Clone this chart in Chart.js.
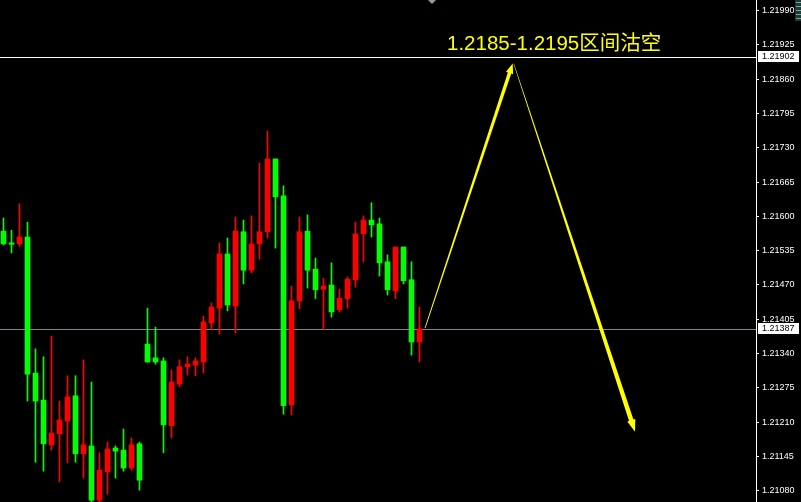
<!DOCTYPE html>
<html lang="zh">

<head>
    <meta charset="UTF-8">
    <title>EURUSD 1.2185-1.2195区间沽空</title>
    <script src="https://cdn.jsdelivr.net/npm/chart.js"></script>
    <style>
        body,
        html {
            margin: 0;
            padding: 0;
            background-color: #000;
            overflow: hidden;
        }

        canvas {
            display: block;
        }
    </style>
</head>

<body>
    <canvas id="candleChart" width="801" height="502"></canvas>

    <script>
        // candle values, one entry per bar (oldest first)
        const opens = [1.21572, 1.21550, 1.21548, 1.21561, 1.21303, 1.21252, 1.21167, 1.21188, 1.21212, 1.21260,
            1.21150, 1.21165, 1.21062, 1.21116, 1.21161, 1.21157, 1.21123, 1.21169, 1.21358, 1.21332,
            1.21326, 1.21203, 1.21282, 1.21315, 1.21318, 1.21324, 1.21398, 1.21426, 1.21529, 1.21430,
            1.21571, 1.21498, 1.21548, 1.21571, 1.21709, 1.21639, 1.21243, 1.21440, 1.21572, 1.21500,
            1.21462, 1.21470, 1.21423, 1.21444, 1.21480, 1.21567, 1.21593, 1.21586, 1.21514, 1.21459,
            1.21542, 1.21480, 1.21362];
        const highs = [1.21597, 1.21574, 1.21624, 1.21589, 1.21349, 1.21334, 1.21373, 1.21250, 1.21298, 1.21298,
            1.21328, 1.21286, 1.21152, 1.21172, 1.21165, 1.21197, 1.21180, 1.21172, 1.21426, 1.21390,
            1.21332, 1.21309, 1.21328, 1.21334, 1.21332, 1.21411, 1.21436, 1.21550, 1.21559, 1.21599,
            1.21593, 1.21601, 1.21701, 1.21762, 1.21709, 1.21658, 1.21468, 1.21599, 1.21603, 1.21521,
            1.21483, 1.21512, 1.21462, 1.21485, 1.21589, 1.21601, 1.21626, 1.21597, 1.21527, 1.21542,
            1.21542, 1.21514, 1.21428];
        const lows = [1.21546, 1.21531, 1.21543, 1.21250, 1.21134, 1.21117, 1.21157, 1.21097, 1.21133, 1.21134,
            1.21104, 1.21055, 1.21055, 1.21074, 1.21104, 1.21117, 1.21119, 1.21081, 1.21324, 1.21320,
            1.21152, 1.21180, 1.21277, 1.21299, 1.21298, 1.21303, 1.21385, 1.21377, 1.21421, 1.21379,
            1.21472, 1.21493, 1.21519, 1.21559, 1.21540, 1.21225, 1.21224, 1.21425, 1.21464, 1.21444,
            1.21385, 1.21409, 1.21419, 1.21426, 1.21466, 1.21514, 1.21561, 1.21487, 1.21451, 1.21444,
            1.21472, 1.21337, 1.21324];
        const closes = [1.21548, 1.21547, 1.21561, 1.21301, 1.21250, 1.21169, 1.21189, 1.21214, 1.21258, 1.21150,
            1.21167, 1.21062, 1.21119, 1.21159, 1.21155, 1.21123, 1.21167, 1.21100, 1.21324, 1.21324,
            1.21205, 1.21286, 1.21315, 1.21320, 1.21326, 1.21400, 1.21428, 1.21529, 1.21432, 1.21572,
            1.21498, 1.21548, 1.21571, 1.21709, 1.21637, 1.21241, 1.21440, 1.21571, 1.21498, 1.21461,
            1.21468, 1.21419, 1.21445, 1.21481, 1.21567, 1.21593, 1.21584, 1.21512, 1.21461, 1.21542,
            1.21478, 1.21362, 1.21387];

        const priceTicks = [1.21080, 1.21145, 1.21210, 1.21275, 1.21340, 1.21405, 1.21470, 1.21535,
            1.21600, 1.21665, 1.21730, 1.21795, 1.21860, 1.21925, 1.21990];
        const priceTop = 1.220103;
        const priceBottom = 1.210586;
        const barMin = -0.4375;
        const barMax = 94.0625;

        const askLevel = 1.21902;
        const bidLevel = 1.21387;

        // forecast path: bar index / price
        const pathX = [52.69, 63.65, 78.94];
        const pathY = [1.21388, 1.21890, 1.21192];

        const noteText = "1.2185-1.2195区间沽空";
        const noteX = 55.44;
        const notePrice = 1.21915;
        const shiftMarkX = 53.56;

        const upColor = '#ff0000';
        const downColor = '#00ff00';

        const candleColors = closes.map((c, i) => c > opens[i] ? upColor : downColor);
        const wickData = lows.map((l, i) => ({ x: i, y: [l, highs[i]] }));
        const bodyData = opens.map((o, i) => ({ x: i, y: [o, closes[i]] }));

        function drawTaperedArrow(ctx, x1, y1, x2, y2, w0, w1, headLen, headW) {
            const len = Math.hypot(x2 - x1, y2 - y1);
            const dx = (x2 - x1) / len, dy = (y2 - y1) / len;
            const nx = -dy, ny = dx;
            const sx = x2 - dx * headLen, sy = y2 - dy * headLen;
            ctx.beginPath();
            ctx.moveTo(x1 + nx * w0 / 2, y1 + ny * w0 / 2);
            ctx.lineTo(sx + nx * w1 / 2, sy + ny * w1 / 2);
            ctx.lineTo(sx + nx * headW / 2, sy + ny * headW / 2);
            ctx.lineTo(x2, y2);
            ctx.lineTo(sx - nx * headW / 2, sy - ny * headW / 2);
            ctx.lineTo(sx - nx * w1 / 2, sy - ny * w1 / 2);
            ctx.lineTo(x1 - nx * w0 / 2, y1 - ny * w0 / 2);
            ctx.closePath();
            ctx.fill();
        }

        function priceTag(ctx, y, value) {
            ctx.fillStyle = '#ffffff';
            ctx.fillRect(758, Math.round(y) - 6, 41, 11);
            ctx.fillStyle = '#000000';
            ctx.font = '9px "Liberation Sans", Arial, sans-serif';
            ctx.textBaseline = 'middle';
            ctx.textAlign = 'left';
            ctx.fillText(value.toFixed(5), 762, Math.round(y));
        }

        const levelLines = {
            id: 'levelLines',
            beforeDatasetsDraw(chart) {
                const { ctx, chartArea, scales } = chart;
                ctx.save();
                ctx.lineWidth = 1;
                ctx.strokeStyle = '#ffffff';
                let y = Math.round(scales.y.getPixelForValue(askLevel)) + 0.5;
                ctx.beginPath();
                ctx.moveTo(chartArea.left, y);
                ctx.lineTo(chartArea.right, y);
                ctx.stroke();
                ctx.strokeStyle = '#778899';
                y = Math.round(scales.y.getPixelForValue(bidLevel)) + 0.5;
                ctx.beginPath();
                ctx.moveTo(chartArea.left, y);
                ctx.lineTo(chartArea.right, y);
                ctx.stroke();
                ctx.restore();
            },
            afterDraw(chart) {
                const { ctx, scales } = chart;
                const xs = scales.x, ys = scales.y;
                ctx.save();

                priceTag(ctx, ys.getPixelForValue(askLevel), askLevel);
                priceTag(ctx, ys.getPixelForValue(bidLevel), bidLevel);

                // forecast arrows
                const px = pathX.map(v => xs.getPixelForValue(v));
                const py = pathY.map(v => ys.getPixelForValue(v));
                ctx.fillStyle = '#ffff00';
                drawTaperedArrow(ctx, px[0], py[0], px[1], py[1], 0.8, 3.6, 10, 7.5);
                drawTaperedArrow(ctx, px[1] + 1, py[1], px[2], py[2], 0.5, 4.6, 12, 8.5);

                // note
                ctx.font = '20.5px "Liberation Sans", "Noto Sans CJK SC", sans-serif';
                ctx.textBaseline = 'alphabetic';
                ctx.textAlign = 'left';
                ctx.fillText(noteText, xs.getPixelForValue(noteX), ys.getPixelForValue(notePrice));

                // chart shift marker
                const mx = xs.getPixelForValue(shiftMarkX);
                ctx.fillStyle = '#8c9aa8';
                ctx.beginPath();
                ctx.moveTo(mx - 4, 0);
                ctx.lineTo(mx + 4, 0);
                ctx.lineTo(mx, 4);
                ctx.closePath();
                ctx.fill();

                // corner widget
                ctx.fillStyle = '#2c3436';
                ctx.fillRect(795, 0, 6, 21);
                ctx.fillStyle = '#3fbf9f';
                for (let k = 0; k < 5; k++) {
                    ctx.fillRect(796, 2 + k * 4, 5, 1);
                }
                ctx.restore();
            }
        };

        new Chart(document.getElementById('candleChart'), {
            type: 'bar',
            data: {
                datasets: [{
                    data: wickData,
                    backgroundColor: candleColors,
                    barThickness: 1,
                    grouped: false,
                    order: 2
                }, {
                    data: bodyData,
                    backgroundColor: candleColors,
                    barThickness: 5,
                    minBarLength: 1,
                    grouped: false,
                    order: 1
                }]
            },
            options: {
                responsive: false,
                animation: false,
                layout: { padding: 0 },
                plugins: {
                    legend: { display: false },
                    tooltip: { enabled: false }
                },
                scales: {
                    x: {
                        type: 'linear',
                        display: false,
                        offset: false,
                        min: barMin,
                        max: barMax
                    },
                    y: {
                        position: 'right',
                        min: priceBottom,
                        max: priceTop,
                        afterBuildTicks: (scale) => {
                            scale.ticks = priceTicks.map(v => ({ value: v }));
                        },
                        afterFit: (scale) => {
                            scale.width = 45;
                            scale.paddingTop = 0;
                            scale.paddingBottom = 0;
                        },
                        border: { display: true, color: '#ffffff', width: 1 },
                        grid: {
                            drawOnChartArea: false,
                            drawTicks: true,
                            tickLength: 3,
                            color: '#ffffff'
                        },
                        ticks: {
                            autoSkip: false,
                            padding: 3,
                            color: '#ffffff',
                            font: { family: '"Liberation Sans", Arial, sans-serif', size: 9 },
                            callback: (v) => Number(v).toFixed(5)
                        }
                    }
                }
            },
            plugins: [levelLines]
        });
    </script>
</body>

</html>
